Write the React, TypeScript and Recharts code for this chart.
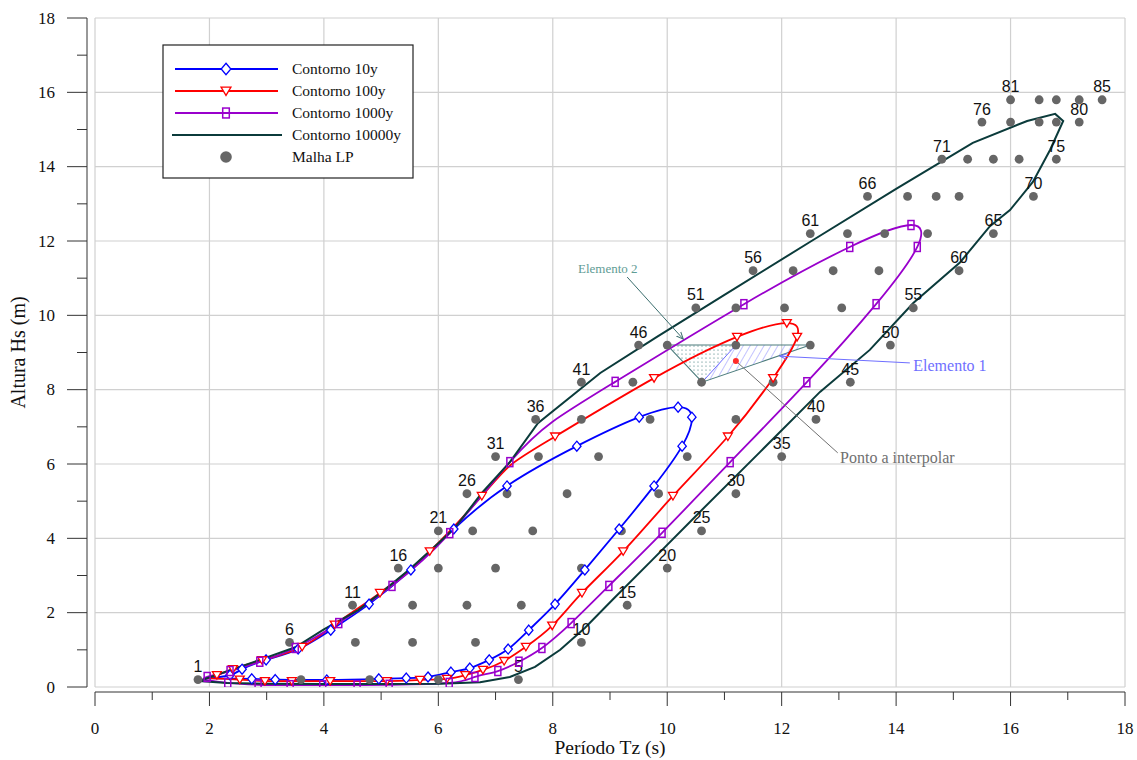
import React from "react";
import { ScatterChart, Scatter, XAxis, YAxis, ReferenceLine } from "recharts";

const SERIF = '"Liberation Serif", "Times New Roman", serif';
const SANS = '"Liberation Sans", Arial, sans-serif';

const BLUE = "#0000ff";
const RED = "#ff0000";
const PURPLE = "#9900cc";
const TEAL = "#0b3b3b";
const DOT = "#666666";
const AXIS = "#333333";
const GRID = "#d0d0d0";

const TICKS = [0, 1, 2, 3, 4, 5, 6, 7, 8, 9, 10, 11, 12, 13, 14, 15, 16, 17, 18];
const GRID_LINES = [0, 2, 4, 6, 8, 10, 12, 14, 16, 18];

// Malha LP: Hs of each row, and the five Tz values in that row
const GRID_HS = [0.2, 1.2, 2.2, 3.2, 4.2, 5.2, 6.2, 7.2, 8.2, 9.2, 10.2, 11.2, 12.2, 13.2, 14.2, 15.2, 15.8];
const GRID_TZ = [
  [1.8, 3.6, 4.8, 6.0, 7.4],
  [3.4, 4.55, 5.55, 6.65, 8.5],
  [4.5, 5.55, 6.5, 7.45, 9.3],
  [5.3, 6.0, 7.0, 8.5, 10.0],
  [6.0, 6.6, 7.65, 9.2, 10.6],
  [6.5, 7.2, 8.25, 9.85, 11.2],
  [7.0, 7.75, 8.8, 10.35, 12.0],
  [7.7, 8.5, 9.7, 11.2, 12.6],
  [8.5, 9.4, 10.6, 11.85, 13.2],
  [9.5, 10.0, 11.2, 12.5, 13.9],
  [10.5, 11.2, 12.05, 13.05, 14.3],
  [11.5, 12.2, 12.9, 13.7, 15.1],
  [12.5, 13.15, 13.8, 14.55, 15.7],
  [13.5, 14.2, 14.7, 15.1, 16.4],
  [14.8, 15.25, 15.7, 16.15, 16.8],
  [15.5, 16.0, 16.5, 16.8, 17.2],
  [16.0, 16.5, 16.8, 17.2, 17.6],
];

// contours: [Tz, Hs, marker drawn (1) or not (0)]
const CONTOUR_10Y = [
  [1.95, 0.24, 0], [2.36, 0.32, 1], [2.57, 0.48, 1], [2.99, 0.73, 1], [3.55, 1.02, 1],
  [4.12, 1.53, 1], [4.79, 2.23, 1], [5.52, 3.15, 1], [6.27, 4.25, 1], [7.2, 5.41, 1],
  [8.42, 6.48, 1], [9.51, 7.26, 1], [10.19, 7.53, 1], [10.43, 7.26, 1], [10.26, 6.48, 1],
  [9.77, 5.41, 1], [9.16, 4.25, 1], [8.56, 3.15, 1], [8.04, 2.23, 1], [7.58, 1.53, 1],
  [7.22, 1.02, 1], [6.89, 0.73, 1], [6.55, 0.51, 1], [6.22, 0.4, 1], [5.82, 0.27, 1],
  [5.44, 0.24, 1], [4.96, 0.22, 1], [4.05, 0.19, 1], [3.15, 0.2, 1], [2.74, 0.22, 1],
  [1.95, 0.24, 0],
];

const CONTOUR_100Y = [
  [1.95, 0.24, 0], [2.13, 0.32, 1], [2.41, 0.48, 1], [2.92, 0.72, 1], [3.62, 1.08, 1],
  [4.19, 1.68, 1], [4.98, 2.53, 1], [5.85, 3.65, 1], [6.76, 5.14, 1], [7.27, 5.98, 0],
  [8.04, 6.74, 1], [9.77, 8.31, 1], [11.22, 9.42, 1], [12.09, 9.79, 1], [12.27, 9.42, 1],
  [11.85, 8.31, 1], [11.06, 6.74, 1], [10.1, 5.14, 1], [9.23, 3.65, 1], [8.51, 2.53, 1],
  [7.99, 1.65, 1], [7.53, 1.08, 1], [7.15, 0.7, 1], [6.78, 0.46, 1], [6.47, 0.32, 1],
  [6.15, 0.22, 1], [5.68, 0.19, 1], [5.1, 0.16, 1], [4.11, 0.16, 1], [3.44, 0.16, 1],
  [2.97, 0.16, 1], [2.53, 0.2, 1], [1.95, 0.24, 0],
];

const CONTOUR_1000Y = [
  [1.9, 0.2, 0], [1.96, 0.27, 1], [2.36, 0.43, 1], [2.88, 0.68, 1], [3.5, 1.05, 1],
  [4.26, 1.72, 1], [5.19, 2.72, 1], [6.2, 4.14, 1], [7.25, 6.05, 1], [7.99, 7.13, 0],
  [9.09, 8.21, 1], [11.34, 10.3, 1], [13.19, 11.84, 1], [14.26, 12.43, 1], [14.37, 11.84, 1],
  [13.65, 10.3, 1], [12.44, 8.2, 1], [11.1, 6.05, 1], [9.91, 4.15, 1], [8.98, 2.72, 1],
  [8.32, 1.72, 1], [7.81, 1.05, 1], [7.41, 0.68, 1], [7.04, 0.43, 1], [6.64, 0.27, 1],
  [6.19, 0.11, 1], [5.14, 0.06, 1], [4.58, 0.05, 1], [3.98, 0.05, 1], [3.41, 0.05, 1],
  [2.85, 0.06, 1], [2.32, 0.11, 1], [1.9, 0.2, 0],
];

const CONTOUR_10000Y = [
  [1.82, 0.16], [2.3, 0.42], [2.88, 0.73], [3.5, 1.07], [4.0, 1.55], [4.6, 2.07],
  [5.05, 2.6], [5.5, 3.17], [6.0, 3.87], [6.3, 4.3], [6.76, 5.22], [7.25, 6.05],
  [7.74, 7.1], [8.83, 8.45], [9.82, 9.42], [11.0, 10.55], [12.5, 11.98], [14.0, 13.4],
  [15.34, 14.64], [16.29, 15.23], [16.78, 15.42], [16.92, 15.23], [16.69, 14.45],
  [16.39, 13.59], [15.99, 12.83], [15.64, 12.4], [15.12, 11.43], [14.3, 10.33],
  [13.54, 9.07], [12.67, 7.94], [11.62, 6.32], [10.57, 4.71], [9.7, 3.36], [9.04, 2.34],
  [8.56, 1.59], [8.13, 1.0], [7.69, 0.54], [7.25, 0.27], [6.73, 0.13], [6.03, 0.09],
  [5.0, 0.08], [4.0, 0.08], [3.0, 0.09], [2.3, 0.11], [1.82, 0.16],
];

// interpolation elements and their notes
const ELEMENTO_2 = [[10.0, 9.2], [10.61, 8.2], [11.2, 9.2]];
const ELEMENTO_1 = [[10.61, 8.2], [11.2, 9.2], [12.5, 9.2]];
const ELEMENT_EDGE = [[10.0, 9.2], [12.5, 9.2], [10.61, 8.2], [10.0, 9.2]];
const ELEMENT_SPLIT = [[10.61, 8.2], [11.2, 9.2]];
const PONTO = [[11.2, 8.77]];
const LEADER_E2 = [[9.3, 11.03], [10.28, 9.36]];
const LEADER_E1 = [[14.24, 8.72], [11.97, 8.9]];
const LEADER_PONTO = [[11.2, 8.77], [12.98, 6.3]];
const NOTES = [
  { x: 8.44, y: 11.27, text: "Elemento 2", color: "#5f9c95", size: 13 },
  { x: 14.3, y: 8.66, text: "Elemento 1", color: "#6f6fff", size: 16 },
  { x: 13.02, y: 6.19, text: "Ponto a interpolar", color: "#707070", size: 16 },
];

const LEGEND = [
  { name: "Contorno 10y", color: BLUE, kind: "diamond" },
  { name: "Contorno 100y", color: RED, kind: "tri" },
  { name: "Contorno 1000y", color: PURPLE, kind: "box" },
  { name: "Contorno 10000y", color: TEAL, kind: "line" },
  { name: "Malha LP", color: DOT, kind: "dot" },
];

const pts = (a: number[][]) => a.map(([x, y, m]) => ({ x, y, m }));
const marks = (a: number[][]) => pts(a).filter((d) => d.m === 1);

const gridDots = GRID_HS.flatMap((hs, r) =>
  GRID_TZ[r].map((tz, j) => ({ x: tz, y: hs, n: r * 5 + j + 1, label: j === 0 || j === 4 }))
);

const Empty = () => <g />;

const diamond = (cx: number, cy: number, s: number, color: string) => (
  <polygon
    points={`${cx},${cy - 5 * s} ${cx + 4.2 * s},${cy} ${cx},${cy + 5 * s} ${cx - 4.2 * s},${cy}`}
    fill="#fff"
    stroke={color}
    strokeWidth={1.3}
  />
);
const triDown = (cx: number, cy: number, s: number, color: string) => (
  <polygon
    points={`${cx - 4.5 * s},${cy - 3.5 * s} ${cx + 4.5 * s},${cy - 3.5 * s} ${cx},${cy + 4 * s}`}
    fill="#fff"
    stroke={color}
    strokeWidth={1.3}
  />
);
const box = (cx: number, cy: number, s: number, color: string) => (
  <rect x={cx - 3 * s} y={cy - 4.5 * s} width={6 * s} height={9 * s} fill="none" stroke={color} strokeWidth={1.5} />
);

const GridDot = (p: any) => (
  <g>
    <circle cx={p.cx} cy={p.cy} r={4.4} fill={DOT} />
    {p.payload.label && (
      <text x={p.cx} y={p.cy - 7.5} textAnchor="middle" fontFamily={SANS} fontSize={16} fill="#111">
        {p.payload.n}
      </text>
    )}
  </g>
);

const Note = (p: any) => (
  <text x={p.cx} y={p.cy} dy="0.35em" fontFamily={SERIF} fontSize={p.payload.size} fill={p.payload.color}>
    {p.payload.text}
  </text>
);

const XTick = (p: any) => {
  const v = p.payload.value;
  const major = v % 2 === 0;
  return (
    <g>
      <line x1={p.x} x2={p.x} y1={p.y + 5} y2={p.y + (major ? 19 : 13)} stroke={AXIS} />
      {major && (
        <text x={p.x} y={p.y + 47} textAnchor="middle" fontFamily={SERIF} fontSize={17} fill="#111">
          {v}
        </text>
      )}
    </g>
  );
};

const YTick = (p: any) => {
  const v = p.payload.value;
  const major = v % 2 === 0;
  return (
    <g>
      <line x1={p.x - 8} x2={p.x - (major ? 28 : 18)} y1={p.y} y2={p.y} stroke={AXIS} />
      {major && (
        <text x={p.x - 40} y={p.y + 5.6} textAnchor="end" fontFamily={SERIF} fontSize={17} fill="#111">
          {v}
        </text>
      )}
    </g>
  );
};

const curve = (key: string, data: number[][], color: string, type: string, width = 1.8) => (
  <Scatter
    key={key}
    data={pts(data)}
    line={{ stroke: color, strokeWidth: width, fill: "none" }}
    lineJointType={type as any}
    shape={Empty}
    isAnimationActive={false}
  />
);

function LegendBox() {
  return (
    <svg width={252} height={135} style={{ position: "absolute", left: 162, top: 44 }}>
      <rect x={1} y={1} width={250} height={133} fill="#fff" stroke="#222" strokeWidth={1.2} />
      {LEGEND.map((e, i) => {
        const y = 25 + 22 * i;
        return (
          <g key={e.name}>
            {e.kind !== "dot" && (
              <line
                x1={e.kind === "line" ? 10 : 13}
                x2={e.kind === "line" ? 120 : 116}
                y1={y}
                y2={y}
                stroke={e.color}
                strokeWidth={2}
              />
            )}
            {e.kind === "diamond" && diamond(64, y, 1.15, e.color)}
            {e.kind === "tri" && triDown(64, y, 1.1, e.color)}
            {e.kind === "box" && box(64, y, 1.1, e.color)}
            {e.kind === "dot" && <circle cx={64} cy={y} r={5.8} fill={e.color} />}
            <text x={130} y={y + 5} fontFamily={SERIF} fontSize={15.5} fill="#111">
              {e.name}
            </text>
          </g>
        );
      })}
    </svg>
  );
}

export default function App() {
  return (
    <div style={{ position: "absolute", left: 0, top: 0, width: 1137, height: 760, background: "#fff" }}>
      <svg width={0} height={0} style={{ position: "absolute" }}>
        <defs>
          <pattern id="stipple" width={4} height={4} patternUnits="userSpaceOnUse">
            <circle cx={2} cy={2} r={0.6} fill="#2f6f6f" />
          </pattern>
          <pattern id="hatch" width={6} height={6} patternUnits="userSpaceOnUse" patternTransform="rotate(30)">
            <line x1={0} y1={0} x2={0} y2={6} stroke="#7b7bff" strokeWidth={0.9} />
          </pattern>
          <marker id="arrTeal" markerWidth={8} markerHeight={8} refX={7} refY={4} orient="auto">
            <path d="M0,1 L7,4 L0,7" fill="none" stroke="#3b6e6e" strokeWidth={1} />
          </marker>
          <marker id="arrBlue" markerWidth={8} markerHeight={8} refX={7} refY={4} orient="auto">
            <path d="M0,1 L7,4 L0,7" fill="none" stroke="#6f6fff" strokeWidth={1} />
          </marker>
        </defs>
      </svg>
      <ScatterChart width={1137} height={760} margin={{ top: 18, right: 12, bottom: 0, left: 0 }}>
        <XAxis
          type="number"
          dataKey="x"
          domain={[0, 18]}
          ticks={TICKS}
          interval={0}
          allowDataOverflow
          height={73}
          tickSize={0}
          tickMargin={0}
          tickLine={false}
          axisLine={{ stroke: AXIS, transform: "translate(0,5)" }}
          tick={XTick}
          label={{ value: "Período Tz (s)", position: "insideBottom", offset: 6, fill: "#111", fontSize: 19.5, fontFamily: SERIF }}
        />
        <YAxis
          type="number"
          dataKey="y"
          domain={[0, 18]}
          ticks={TICKS}
          interval={0}
          allowDataOverflow
          width={95}
          tickSize={0}
          tickMargin={0}
          tickLine={false}
          axisLine={{ stroke: AXIS, transform: "translate(-8,0)" }}
          tick={YTick}
          label={{
            value: "Altura Hs (m)",
            angle: -90,
            position: "insideLeft",
            offset: 18,
            fill: "#111",
            fontSize: 20,
            fontFamily: SERIF,
            style: { textAnchor: "middle" },
          }}
        />
        {GRID_LINES.map((v) => (
          <ReferenceLine key={`gx${v}`} x={v} stroke={GRID} strokeWidth={1.2} />
        ))}
        {GRID_LINES.map((v) => (
          <ReferenceLine key={`gy${v}`} y={v} stroke={GRID} strokeWidth={1.2} />
        ))}

        <Scatter data={pts(ELEMENTO_2)} line={{ fill: "url(#stipple)", stroke: "none" }} lineJointType="linearClosed" shape={Empty} isAnimationActive={false} />
        <Scatter data={pts(ELEMENTO_1)} line={{ fill: "url(#hatch)", stroke: "none" }} lineJointType="linearClosed" shape={Empty} isAnimationActive={false} />
        {curve("edge", ELEMENT_EDGE, "#4d7d7d", "linear", 1.1)}
        {curve("split", ELEMENT_SPLIT, "#5c5cff", "linear", 0.9)}

        {curve("c10", CONTOUR_10Y, BLUE, "natural")}
        {curve("c100", CONTOUR_100Y, RED, "natural")}
        {curve("c1000", CONTOUR_1000Y, PURPLE, "natural")}
        {curve("c10000", CONTOUR_10000Y, TEAL, "linear", 2)}

        <Scatter data={gridDots} shape={GridDot} isAnimationActive={false} />

        <Scatter data={marks(CONTOUR_10Y)} shape={(p: any) => diamond(p.cx, p.cy, 1, BLUE)} isAnimationActive={false} />
        <Scatter data={marks(CONTOUR_100Y)} shape={(p: any) => triDown(p.cx, p.cy, 1, RED)} isAnimationActive={false} />
        <Scatter data={marks(CONTOUR_1000Y)} shape={(p: any) => box(p.cx, p.cy, 1, PURPLE)} isAnimationActive={false} />

        <Scatter data={pts(LEADER_E2)} line={{ stroke: "#3b6e6e", strokeWidth: 1, markerEnd: "url(#arrTeal)" }} lineJointType="linear" shape={Empty} isAnimationActive={false} />
        <Scatter data={pts(LEADER_E1)} line={{ stroke: "#6f6fff", strokeWidth: 1, markerEnd: "url(#arrBlue)" }} lineJointType="linear" shape={Empty} isAnimationActive={false} />
        <Scatter data={pts(LEADER_PONTO)} line={{ stroke: "#707070", strokeWidth: 1 }} lineJointType="linear" shape={Empty} isAnimationActive={false} />
        <Scatter data={pts(PONTO)} shape={(p: any) => <circle cx={p.cx} cy={p.cy} r={3} fill="#ff2a2a" />} isAnimationActive={false} />
        <Scatter data={NOTES} shape={Note} isAnimationActive={false} />
      </ScatterChart>
      <LegendBox />
    </div>
  );
}
